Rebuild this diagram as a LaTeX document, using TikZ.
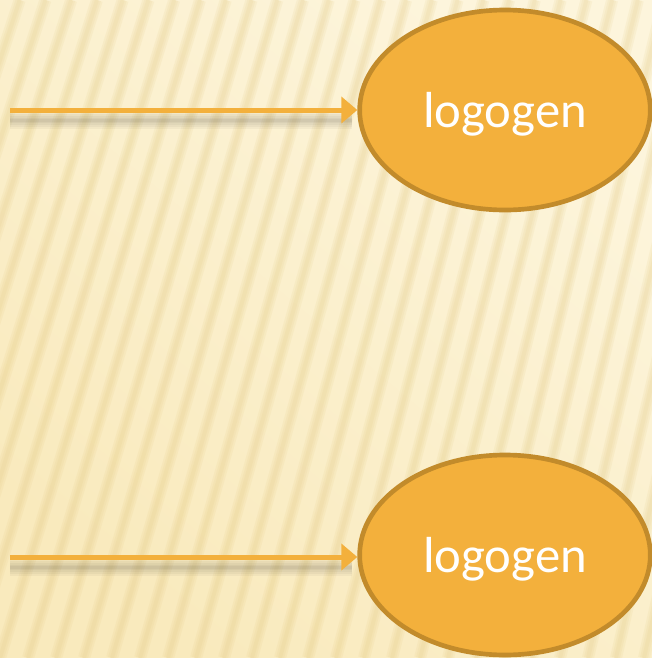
\documentclass[tikz,border=0pt]{standalone}
\usepackage{fontspec}
\setmainfont{Carlito}
\usetikzlibrary{shapes.geometric,arrows.meta}
\definecolor{bgcream}{HTML}{F9EABD}
\definecolor{bglight}{HTML}{FDF5DC}
\definecolor{stripecol}{HTML}{E2C77E}
\definecolor{orangefill}{HTML}{F3B03C}
\definecolor{orangeedge}{HTML}{C28B2B}
\begin{document}
\begin{tikzpicture}[x=0.75pt,y=-0.75pt,
  logonode/.style={ellipse, draw=orangeedge, line width=3.5pt, fill=orangefill,
    minimum width=218pt, minimum height=150pt, inner sep=0pt, text=white,
    text depth=0pt, font=\fontsize{38}{42}\selectfont},
  feed/.style={draw=orangefill, line width=3.75pt, -{Triangle[length=12pt,width=19.5pt]}},
  feedshadow/.style={draw=black, opacity=0.035},
  stripeline/.style={draw=stripecol, opacity=0.12},
]
\useasboundingbox (0,0) rectangle (652,658);
\begin{scope}
\clip (0,0) rectangle (652,658);
\shade[top color=bglight, bottom color=bgcream, shading angle=-40]
  (0,0) rectangle (652,658);
\foreach \i in {-10,...,25} {
  \pgfmathsetmacro{\xb}{\i*28}
  \pgfmathsetmacro{\xt}{0.92*\xb+200}
  \draw[stripeline, line width=9pt] (\xb,658) -- (\xt,0);
  \draw[stripeline, line width=6pt] (\xb,658) -- (\xt,0);
  \draw[stripeline, line width=3pt] (\xb,658) -- (\xt,0);
}
\end{scope}
\node[logonode] (lg1) at (505,110) {logogen};
\node[logonode] (lg2) at (505,555) {logogen};
\coordinate (in1) at (10,110);
\coordinate (in2) at (10,557);
\foreach \w in {13pt,10pt,7pt,4pt,2pt} {
  \draw[feedshadow, line width=\w] ([yshift=-8pt]in1) -- ([yshift=-8pt,xshift=-4pt]lg1.west);
  \draw[feedshadow, line width=\w] ([yshift=-8pt]in2) -- ([yshift=-8pt,xshift=-4pt]in2 -| lg2.west);
}
\draw[feed] (in1) -- (lg1.west);
\draw[feed] (in2) -- (in2 -| lg2.west);
\end{tikzpicture}
\end{document}
